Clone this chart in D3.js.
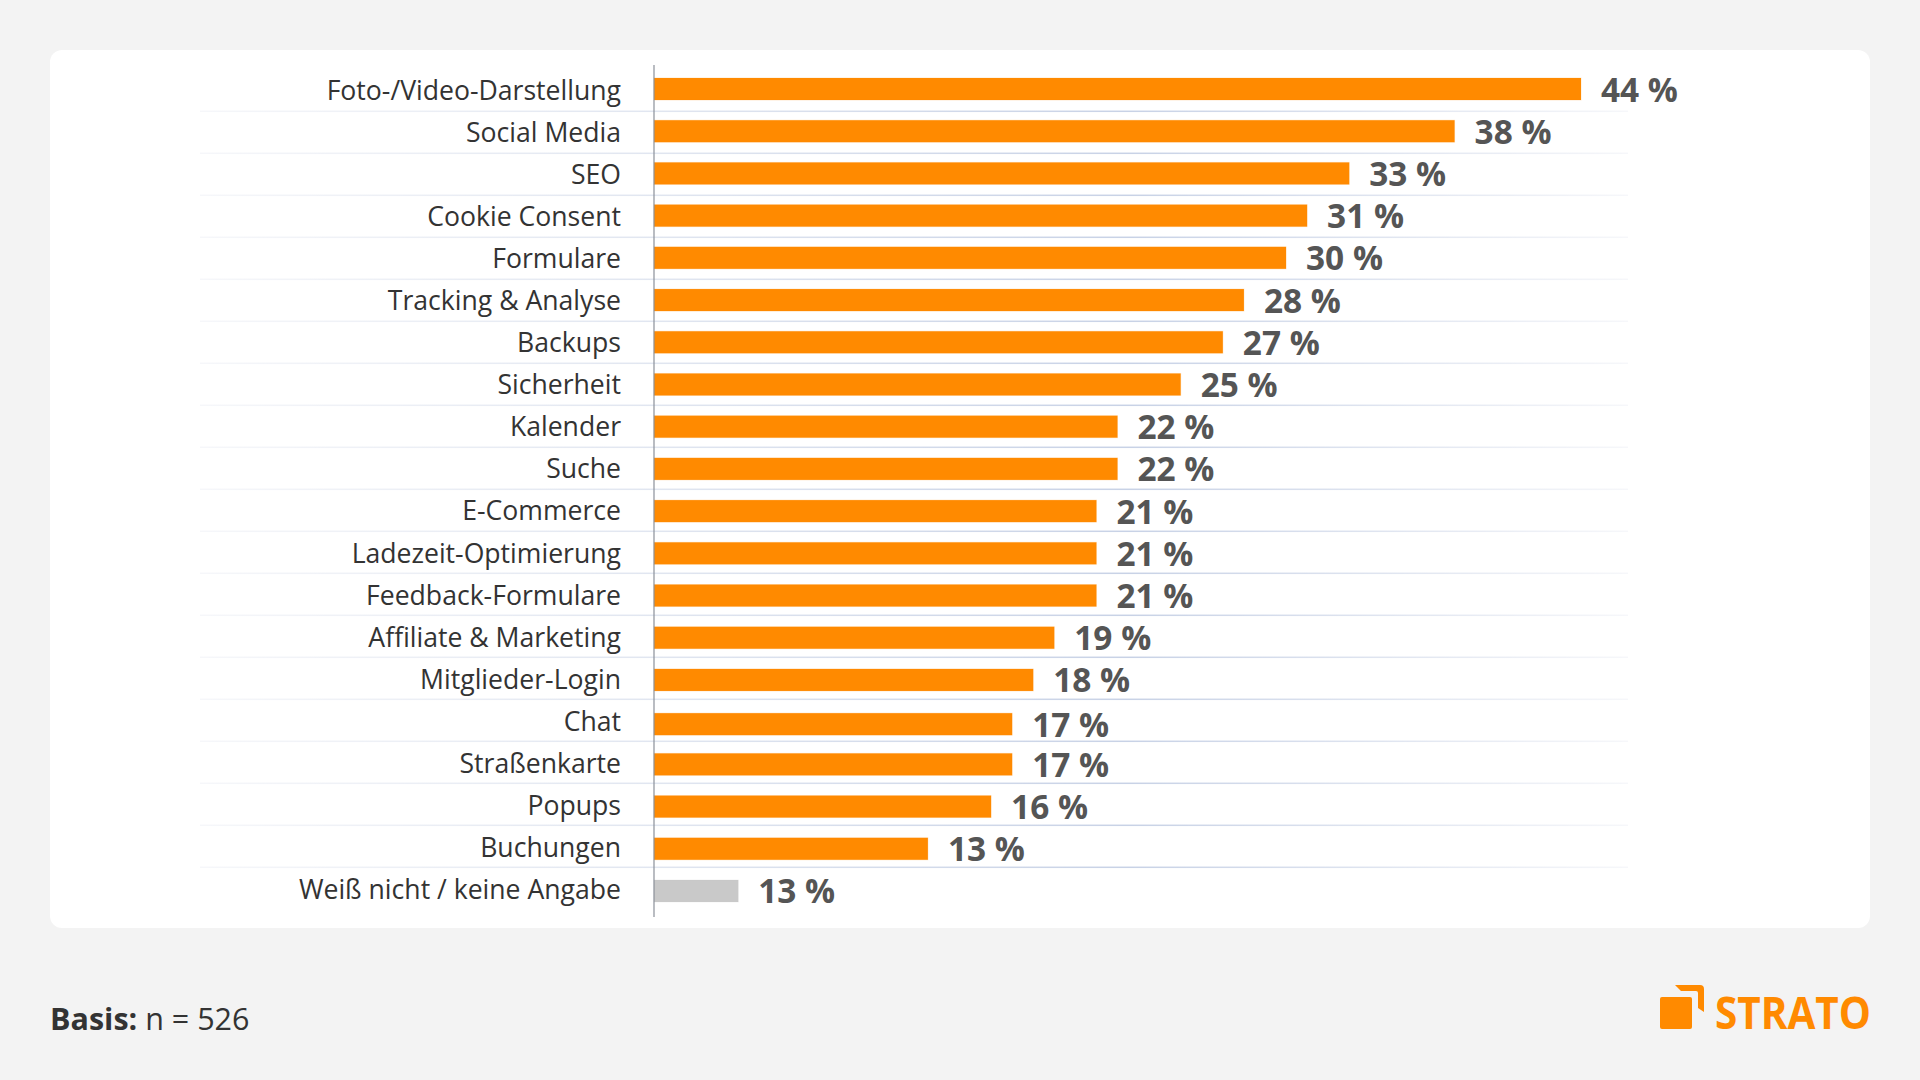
<!DOCTYPE html>
<html lang="de">
<head>
<meta charset="utf-8">
<title>Basis: n = 526</title>
<script src="https://cdnjs.cloudflare.com/ajax/libs/d3/7.8.5/d3.min.js"></script>
<style>
  html, body { margin: 0; padding: 0; background: #f3f3f3; }
  svg { display: block; font-family: "Open Sans", sans-serif; }
</style>
</head>
<body>
<div id="visualization"></div>
<script>
// Chart values
const categories = [
  "Foto-/Video-Darstellung", "Social Media", "SEO", "Cookie Consent", "Formulare",
  "Tracking & Analyse", "Backups", "Sicherheit", "Kalender", "Suche", "E-Commerce",
  "Ladezeit-Optimierung", "Feedback-Formulare", "Affiliate & Marketing",
  "Mitglieder-Login", "Chat", "Straßenkarte", "Popups", "Buchungen",
  "Weiß nicht / keine Angabe",
];
const values = [44, 38, 33, 31, 30, 28, 27, 25, 22, 22, 21, 21, 21, 19, 18, 17, 17, 16, 13, 4];
// The last label does not match its bar in the original, so labels are kept separately
const valueLabels = [44, 38, 33, 31, 30, 28, 27, 25, 22, 22, 21, 21, 21, 19, 18, 17, 17, 16, 13, 13];
const greyCategories = ["Weiß nicht / keine Angabe"];
const footBold = "Basis:";
const footText = "n = 526";
const logoText = "STRATO";

const width = 1920;
const height = 1080;
const orange = "#ff8a00";

const svg = d3
  .select("#visualization")
  .append("svg")
  .attr("width", width)
  .attr("height", height);

// Fade for the row separators
const grad = svg
  .append("defs")
  .append("linearGradient")
  .attr("id", "rowFade")
  .attr("gradientUnits", "userSpaceOnUse")
  .attr("x1", 200)
  .attr("x2", 1628)
  .attr("y1", 0)
  .attr("y2", 0);
grad.append("stop").attr("offset", 0).attr("stop-color", "#f6f7fa");
grad.append("stop").attr("offset", 0.3).attr("stop-color", "#e2e7f1");
grad.append("stop").attr("offset", 0.65).attr("stop-color", "#c8d2e6");
grad.append("stop").attr("offset", 1).attr("stop-color", "#f6f7fa");

// White card
svg
  .append("rect")
  .attr("x", 50)
  .attr("y", 50)
  .attr("width", 1820)
  .attr("height", 878)
  .attr("rx", 12)
  .attr("fill", "#fff");

// Scales
const xScale = d3.scaleLinear().domain([0, 44]).range([654, 1581]);
const yScale = d3.scaleBand().domain(categories).range([78, 902]).paddingInner(0.479);
const rowScale = d3.scalePoint().domain(categories.slice(0, -1)).range([111.3, 867.3]);
const nameScale = d3.scalePoint().domain(categories).range([91.2, 889.7]);
const labelScale = d3.scalePoint().domain(categories).range([101.7, 903.3]);

// The Chat row sits a little lower than the regular rhythm in the original
const rowNudge = (d) => (d === "Chat" ? 2 : 0);

// Row separators
svg
  .selectAll(".row")
  .data(categories.slice(0, -1))
  .enter()
  .append("rect")
  .attr("class", "row")
  .attr("x", 200)
  .attr("y", (d) => rowScale(d) - 0.75)
  .attr("width", 1428)
  .attr("height", 1.5)
  .attr("fill", "url(#rowFade)");

// Bars
svg
  .selectAll(".bar")
  .data(categories)
  .enter()
  .append("rect")
  .attr("class", "bar")
  .attr("x", xScale(0))
  .attr("y", (d) => yScale(d) + rowNudge(d))
  .attr("width", (d, i) => xScale(values[i]) - xScale(0))
  .attr("height", yScale.bandwidth())
  .attr("fill", (d) => (greyCategories.includes(d) ? "#c9c9c9" : orange))
  .attr("stroke", (d) => (greyCategories.includes(d) ? "#c9c9c9" : orange))
  .attr("stroke-opacity", 0.2)
  .attr("stroke-width", 1);

// Category axis
const nameAxis = svg
  .append("g")
  .attr("transform", "translate(621, 0)")
  .call(d3.axisLeft(nameScale).tickSize(0).tickPadding(0));
nameAxis.select(".domain").remove();
nameAxis
  .selectAll("text")
  .attr("dy", "0.32em")
  .attr("fill", "#333")
  .style("font-family", '"Open Sans", sans-serif')
  .style("font-size", "26.6px");

// Vertical zero line
svg
  .append("line")
  .attr("x1", xScale(0))
  .attr("x2", xScale(0))
  .attr("y1", 65)
  .attr("y2", 917)
  .attr("stroke", "#8b9099")
  .attr("stroke-width", 1.2);

// Value labels
svg
  .selectAll(".value")
  .data(categories)
  .enter()
  .append("text")
  .attr("class", "value")
  .attr("x", (d, i) => xScale(values[i]) + 20)
  .attr("y", (d) => labelScale(d) + rowNudge(d))
  .attr("fill", "#555")
  .style("font-size", "33.4px")
  .style("font-weight", 700)
  .text((d, i) => `${valueLabels[i]} %`);

// Footnote
const foot = svg
  .append("text")
  .attr("x", 50)
  .attr("y", 1030)
  .attr("fill", "#333")
  .style("font-size", "30.5px");
foot.append("tspan").style("font-weight", 700).text(footBold);
foot.append("tspan").text(" " + footText);

// Logo
const logo = svg.append("g").attr("fill", orange);
logo
  .append("rect")
  .attr("x", 1660)
  .attr("y", 997)
  .attr("width", 32)
  .attr("height", 32)
  .attr("rx", 2);
logo
  .append("path")
  .attr("d", "M1675 985H1700Q1704 985 1704 989V1012L1698 1008V993Q1698 991 1696 991H1681Z");
logo
  .append("text")
  .attr("x", 1715)
  .attr("y", 1029)
  .attr("textLength", 156)
  .attr("lengthAdjust", "spacingAndGlyphs")
  .style("font-size", "45px")
  .style("font-weight", 700)
  .text(logoText);
</script>
</body>
</html>
